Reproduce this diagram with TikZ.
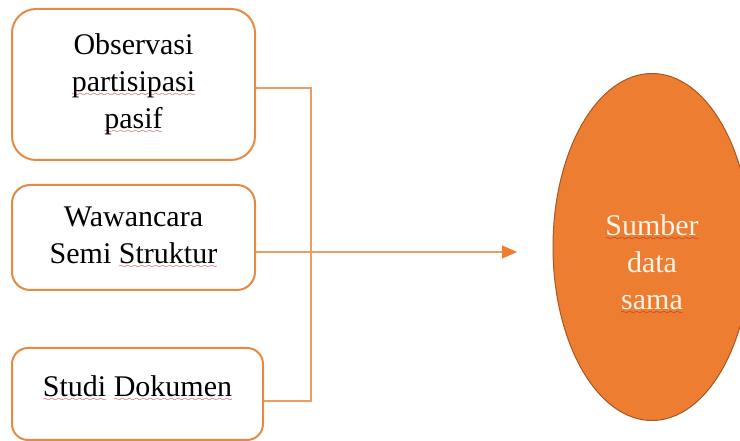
\documentclass[tikz,border=0pt]{standalone}
\usepackage{fontspec}
\setmainfont{Liberation Serif}
\usetikzlibrary{
  arrows.meta,
  shapes
}
\definecolor{boxorange}{HTML}{E58A45}
\definecolor{lineorange}{HTML}{EE9D62}
\definecolor{fillorange}{HTML}{ED7D31}
\definecolor{rimbrown}{HTML}{A9571F}
\definecolor{paletext}{HTML}{FFF4E8}
\definecolor{spellred}{HTML}{C81414}
\font\wavefont=lasy6 at 8pt
\newcommand\typo[1]{\setbox0\hbox{#1}\rlap{\raisebox{-5pt}{\color{spellred}\hbox to \wd0{\xleaders\hbox{\wavefont\char58}\hfil}}}\box0\relax}

\begin{document}
\begin{tikzpicture}[x=1pt, y=1pt,
    every node/.style={font=\fontsize{30}{37}\selectfont},
    srcbox/.style={draw=boxorange, line width=2pt, fill=white, align=center, inner sep=0pt},
    link/.style={draw=lineorange, line width=1.2pt}]
        \useasboundingbox (0,0) rectangle (740,441);
        \clip (0,0) rectangle (740,441);
        \node[srcbox, rounded corners=24pt, minimum width=243pt, minimum height=151pt]
            (obs) at (133.5,356.5) {Observasi\\\typo{partisipasi}\\\typo{pasif}};
        \node[srcbox, rounded corners=18pt, minimum width=243pt, minimum height=105pt]
            (wawancara) at (133.5,203.5) {Wawancara\\Semi \typo{Struktur}};
        \node[srcbox, rounded corners=16pt, minimum width=251pt, minimum height=92pt,
            text height=22pt, text depth=16pt]
            (studi) at (137.5,47) {\typo{Studi} \typo{Dokumen}};
        \node[ellipse, draw=rimbrown, line width=1pt, fill=fillorange,
            minimum width=198pt, minimum height=347pt] (sumber) at (652,194) {};
        \node[text=paletext, align=center] (sumbertext) at (652,176.5)
            {\typo{Sumber}\\data\\\typo{sama}};
        \coordinate (spinetop) at (311,353);
        \coordinate (spinebot) at (311,40);
        \coordinate (tip) at (517,189);
        \draw[link] (obs.east |- spinetop) -- (spinetop) -- (spinebot) -- (studi.east |- spinebot);
        \draw[link, -{Triangle[length=15pt, width=13pt, color=fillorange, fill=fillorange]}]
            (wawancara.east |- tip) -- (tip);
\end{tikzpicture}
\end{document}
